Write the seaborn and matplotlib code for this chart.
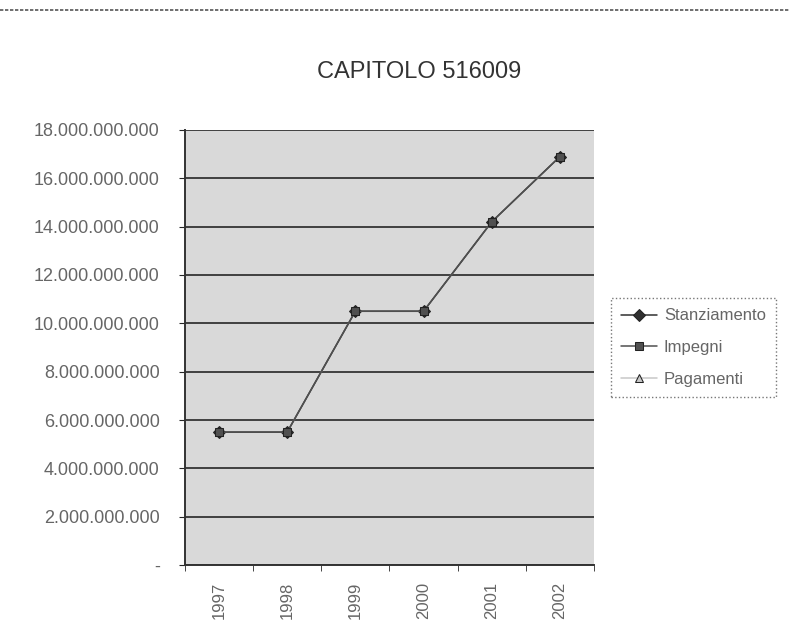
# Grafico capitolo 516009: stanziamento, impegni e pagamenti per anno

import pandas as pd
import matplotlib
matplotlib.use("Agg")
import matplotlib.pyplot as plt
import seaborn as sns
from matplotlib.ticker import FuncFormatter, FixedLocator

# dati
anni = ["1997", "1998", "1999", "2000", "2001", "2002"]
stanziamento = [5.5e9, 5.5e9, 10.5e9, 10.5e9, 14.2e9, 16.9e9]
impegni = [5.5e9, 5.5e9, 10.5e9, 10.5e9, 14.2e9, 16.9e9]
pagamenti = [5.5e9, 5.5e9, 10.5e9, 10.5e9, 14.2e9, 16.9e9]

df = pd.DataFrame({
    "Anno": anni * 3,
    "Valore": stanziamento + impegni + pagamenti,
    "Serie": ["Stanziamento"] * 6 + ["Impegni"] * 6 + ["Pagamenti"] * 6,
})

sns.set_style("white")
plt.rcParams["font.family"] = ["Liberation Sans", "DejaVu Sans"]

fig = plt.figure(figsize=(7.9, 6.4), dpi=100)
ax = fig.add_axes([0.234, 0.117, 0.518, 0.68])
ax.set_facecolor("#d9d9d9")

stili = {
    "Pagamenti": dict(color="#c8c8c8", marker="^", z=2),
    "Stanziamento": dict(color="#303030", marker="D", z=3),
    "Impegni": dict(color="#505050", marker="s", z=4),
}
for serie in ["Pagamenti", "Stanziamento", "Impegni"]:
    s = stili[serie]
    sns.lineplot(data=df[df["Serie"] == serie], x="Anno", y="Valore",
                 color=s["color"], marker=s["marker"], markersize=6,
                 markeredgecolor="#222222", linewidth=1.1, ax=ax,
                 label=serie, zorder=s["z"], sort=False)

ax.set_xlim(-0.5, 5.5)
ax.set_ylim(0, 18e9)
ax.set_yticks([i * 2e9 for i in range(10)])


def formato(v, pos):
    if v == 0:
        return "-"
    return f"{v:,.0f}".replace(",", ".")


ax.yaxis.set_major_formatter(FuncFormatter(formato))
ax.yaxis.grid(True, color="#404040", linewidth=1.4)
ax.set_axisbelow(True)
ax.tick_params(axis="y", labelsize=13, labelcolor="#666666", length=4,
               left=True, pad=14)
ax.tick_params(axis="x", labelsize=12, labelcolor="#666666", rotation=90,
               length=0, pad=12)
ax.xaxis.set_minor_locator(FixedLocator([i - 0.5 for i in range(7)]))
ax.tick_params(axis="x", which="minor", bottom=True, length=4)
ax.set_xlabel("")
ax.set_ylabel("")
for lato in ["left", "bottom"]:
    ax.spines[lato].set_color("#333333")
    ax.spines[lato].set_linewidth(1.4)
for lato in ["top", "right"]:
    ax.spines[lato].set_visible(False)

fig.suptitle("CAPITOLO 516009", x=0.53, y=0.905, fontsize=17, color="#333333")

# legenda a destra nell'ordine originale
h, l = ax.get_legend_handles_labels()
ordine = [l.index(n) for n in ["Stanziamento", "Impegni", "Pagamenti"]]
leg = ax.legend([h[i] for i in ordine], [l[i] for i in ordine],
                loc="center left", bbox_to_anchor=(1.02, 0.50),
                frameon=True, fancybox=False, fontsize=12,
                handlelength=2.2, borderpad=0.6, labelspacing=1.0,
                handletextpad=0.4)
leg.get_frame().set_edgecolor("#555555")
leg.get_frame().set_linestyle(":")
for t in leg.get_texts():
    t.set_color("#666666")

# linea in alto come nella scansione
fig.add_artist(plt.Line2D([0.0, 1.0], [0.985, 0.985], color="#555555",
                          linewidth=1.2, linestyle=(0, (2, 1))))

fig.savefig("out.png", dpi=100)
